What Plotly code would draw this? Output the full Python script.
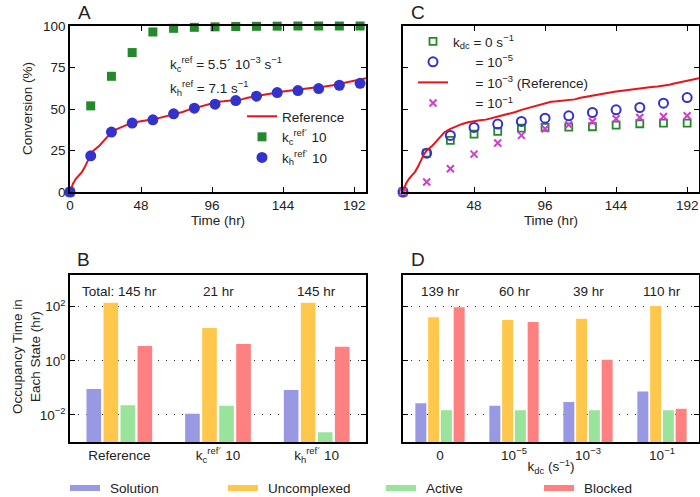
import plotly.graph_objects as go

W, H = 700, 497
FONT = "Liberation Sans, Arial, Helvetica, sans-serif"
FS = 13.5

# ---------------- Panel A data ----------------
ref_time = [0, 2, 4, 6, 8, 10, 12, 14, 16, 20, 24, 28, 32, 36, 40, 44, 48, 52, 56, 60, 64, 68, 72, 76, 80,
            84, 88, 92, 96, 100, 104, 108, 112, 116, 120, 124, 128, 132, 136, 140, 144, 148, 152, 156, 160,
            164, 168, 172, 176, 180, 184, 188, 192, 196, 200]
ref_conv = [0, 5, 8, 10, 12, 15, 19, 22.5, 25, 28, 32, 36, 38, 39.5, 41, 42, 42.8, 43.2, 43.6, 44.5, 45.5,
            46.5, 47.3, 48.2, 49.5, 50.5, 51.5, 52.5, 53.5, 54.3, 54.6, 55, 55.3, 55.8, 56.8, 57.5, 58.3, 58.9,
            59.4, 60, 60.5, 61, 61.6, 62.1, 62.5, 62.9, 63.2, 63.6, 64, 64.6, 65.5, 66.3, 67, 67.8, 68.5]

a_time = [0, 14, 28, 42, 56, 70, 84, 98, 112, 126, 140, 154, 168, 182, 196]
a_kc10 = [0, 51.9, 69.7, 84.0, 96.4, 98.6, 99.2, 99.5, 99.7, 99.8, 99.9, 100, 100, 100, 100]
a_kh10 = [0, 21.8, 36.1, 41.5, 43.5, 47.1, 50.5, 52.9, 55.1, 57.7, 59.9, 61.1, 62.3, 64.3, 65.5]

# ---------------- Panel C data ----------------
c_time = [0, 16, 32, 48, 64, 80, 96, 112, 128, 144, 160, 176, 192]
c_k0 = [0, 23.4, 31.1, 34.9, 36.5, 38.5, 38.9, 39.1, 39.3, 40.3, 41.1, 41.5, 41.5]
c_k5 = [0, 23.4, 34.1, 38.9, 40.9, 42.5, 44.5, 45.9, 47.9, 49.5, 50.9, 53.5, 56.9]
c_k1 = [0, 6.0, 14.0, 22.8, 29.5, 34.1, 38.1, 40.5, 42.5, 44.1, 44.9, 45.5, 45.9]

# ---------------- Panel B / D data ----------------
states = ["Solution", "Uncomplexed", "Active", "Blocked"]
state_colors = ["#9999e3", "#ffc84d", "#99e39a", "#ff8080"]

b_labels = ["Reference", "k<sub>c</sub><sup>ref´</sup> 10", "k<sub>h</sub><sup>ref´</sup> 10"]
b_totals = ["Total: 145 hr", "21 hr", "145 hr"]
b_values = {
    "Solution":    [0.091, 0.011, 0.083],
    "Uncomplexed": [141, 16.3, 141],
    "Active":      [0.023, 0.022, 0.0023],
    "Blocked":     [3.5, 4.2, 3.3],
}

d_labels = ["0", "10<sup>−5</sup>", "10<sup>−3</sup>", "10<sup>−1</sup>"]
d_totals = ["139 hr", "60 hr", "39 hr", "110 hr"]
d_values = {
    "Solution":    [0.027, 0.022, 0.030, 0.074],
    "Uncomplexed": [41, 32, 36, 105],
    "Active":      [0.015, 0.015, 0.015, 0.015],
    "Blocked":     [95, 27, 1.1, 0.017],
}

log_ticks = [1e-2, 1, 1e2]
log_ticktext = ["10<sup>−2</sup>", "10<sup>0</sup>", "10<sup>2</sup>"]
conv_ticks = [0, 25, 50, 75, 100]
time_ticks = [0, 48, 96, 144, 192]


def px_x(p):
    return p / W


def px_y(p):
    return 1 - p / H


fig = go.Figure()

# Panel A
fig.add_trace(go.Scatter(x=ref_time, y=ref_conv, mode="lines", line=dict(color="#e8141a", width=2),
                         name="Reference", xaxis="x", yaxis="y", legend="legend", cliponaxis=False))
fig.add_trace(go.Scatter(x=a_time, y=a_kc10, mode="markers",
                         marker=dict(symbol="square", size=9, color="#23892a"),
                         name="k<sub>c</sub><sup>ref´</sup> 10", xaxis="x", yaxis="y", legend="legend",
                         cliponaxis=False))
fig.add_trace(go.Scatter(x=a_time, y=a_kh10, mode="markers",
                         marker=dict(symbol="circle", size=11, color="#3333cc"),
                         name="k<sub>h</sub><sup>ref´</sup> 10", xaxis="x", yaxis="y", legend="legend",
                         cliponaxis=False))

# Panel C
pad = "\u00a0" * 6
fig.add_trace(go.Scatter(x=c_time, y=c_k0, mode="markers",
                         marker=dict(symbol="square-open", size=7, color="#23892a", line=dict(width=1.8)),
                         name="k<sub>dc</sub> = 0 s<sup>−1</sup>", xaxis="x2", yaxis="y2", legend="legend2",
                         cliponaxis=False))
fig.add_trace(go.Scatter(x=c_time, y=c_k5, mode="markers",
                         marker=dict(symbol="circle-open", size=9, color="#3333cc", line=dict(width=2)),
                         name=pad + "= 10<sup>−5</sup>", xaxis="x2", yaxis="y2", legend="legend2",
                         cliponaxis=False))
fig.add_trace(go.Scatter(x=ref_time, y=ref_conv, mode="lines", line=dict(color="#e8141a", width=2),
                         name=pad + "= 10<sup>−3</sup> (Reference)", xaxis="x2", yaxis="y2",
                         legend="legend2", cliponaxis=False))
fig.add_trace(go.Scatter(x=c_time, y=c_k1, mode="markers",
                         marker=dict(symbol="x-thin-open", size=7, color="#d43ad4", line=dict(width=2, color="#d43ad4")),
                         name=pad + "= 10<sup>−1</sup>", xaxis="x2", yaxis="y2", legend="legend2",
                         cliponaxis=False))

# Panels B and D bars
for s, col in zip(states, state_colors):
    fig.add_trace(go.Bar(x=list(range(len(b_labels))), y=b_values[s], marker=dict(color=col, line=dict(width=0)),
                         name=s, xaxis="x3", yaxis="y3", showlegend=False))
    fig.add_trace(go.Bar(x=list(range(len(d_labels))), y=d_values[s], marker=dict(color=col, line=dict(width=0)),
                         name=s, xaxis="x4", yaxis="y4", showlegend=False))

frame = dict(showline=True, linecolor="black", linewidth=1.5, mirror="ticks", zeroline=False,
             showgrid=False, ticks="inside", ticklen=5, tickwidth=1, tickcolor="black", automargin=False,
             tickfont=dict(size=FS, color="#222"))

domA_x = [px_x(70), px_x(366)]
domC_x = [px_x(403), px_x(699)]
dom_top = [px_y(192), px_y(26)]
dom_bot = [px_y(442), px_y(275)]

fig.update_layout(
    width=W, height=H, margin=dict(l=0, r=0, t=0, b=0, autoexpand=False),
    paper_bgcolor="white", plot_bgcolor="white",
    font=dict(family=FONT, size=FS, color="#222"),
    barmode="group", bargap=0.31, bargroupgap=0.14,
    xaxis=dict(frame, domain=domA_x, range=[0, 200], tickvals=time_ticks, anchor="y",
               title=dict(text="Time (hr)", standoff=4, font=dict(size=FS))),
    yaxis=dict(frame, domain=dom_top, range=[0, 100], tickvals=conv_ticks, anchor="x"),
    xaxis2=dict(frame, domain=domC_x, range=[0, 200], tickvals=time_ticks,
                ticktext=["", "48", "96", "144", "192"], anchor="y2",
                title=dict(text="Time (hr)", standoff=4, font=dict(size=FS))),
    yaxis2=dict(frame, domain=dom_top, range=[0, 100], tickvals=conv_ticks, showticklabels=False, anchor="x2"),
    xaxis3=dict(frame, domain=domA_x, range=[-0.5, 2.5], tickvals=list(range(len(b_labels))),
                ticktext=b_labels, ticks="", anchor="y3"),
    yaxis3=dict(frame, domain=dom_bot, type="log", range=[-3, 3.17], tickvals=log_ticks,
                ticktext=log_ticktext, showgrid=True, gridcolor="#333", griddash="1px,7px", gridwidth=1,
                anchor="x3"),
    xaxis4=dict(frame, domain=domC_x, range=[-0.5, 3.5], tickvals=list(range(len(d_labels))),
                ticktext=d_labels, ticks="", anchor="y4",
                title=dict(text="k<sub>dc</sub> (s<sup>−1</sup>)", standoff=0, font=dict(size=FS))),
    yaxis4=dict(frame, domain=dom_bot, type="log", range=[-3, 3.17], tickvals=log_ticks,
                showticklabels=False, showgrid=True, gridcolor="#333", griddash="1px,7px", gridwidth=1,
                anchor="x4"),
    legend=dict(x=px_x(242), y=px_y(101), xanchor="left", yanchor="top", bgcolor="rgba(0,0,0,0)",
                font=dict(size=FS), tracegroupgap=0, itemwidth=30),
    legend2=dict(x=px_x(413), y=px_y(26), xanchor="left", yanchor="top", bgcolor="rgba(0,0,0,0)",
                 font=dict(size=FS), tracegroupgap=0, itemwidth=30),
)

ann = []
# panel letters
for letter, x, y in [("A", 76, 13), ("C", 409, 13), ("B", 75, 259), ("D", 409, 259)]:
    ann.append(dict(text=letter, x=px_x(x), y=px_y(y), xref="paper", yref="paper", xanchor="left",
                    yanchor="middle", showarrow=False, font=dict(size=19, color="#222")))
# y-axis titles
ann.append(dict(text="Conversion (%)", x=px_x(27), y=px_y(109), xref="paper", yref="paper", textangle=-90,
                xanchor="center", yanchor="middle", showarrow=False, font=dict(size=FS)))
ann.append(dict(text="Occupancy Time in<br>Each State (hr)", x=px_x(26), y=px_y(357), xref="paper",
                yref="paper", textangle=-90, xanchor="center", yanchor="middle", showarrow=False,
                font=dict(size=FS)))
# rate-constant annotation in A
ann.append(dict(text="k<sub>c</sub><sup>ref</sup> = 5.5´ 10<sup>−3</sup> s<sup>−1</sup>", x=px_x(168),
                y=px_y(52), xref="paper", yref="paper", xanchor="left", showarrow=False, font=dict(size=FS)))
ann.append(dict(text="k<sub>h</sub><sup>ref</sup> = 7.1 s<sup>−1</sup>", x=px_x(168), y=px_y(76),
                xref="paper", yref="paper", xanchor="left", showarrow=False, font=dict(size=FS)))
# totals
for i, t in enumerate(b_totals):
    ann.append(dict(text=t, x=i, y=px_y(291), xref="x3", yref="paper", showarrow=False, font=dict(size=FS)))
for i, t in enumerate(d_totals):
    ann.append(dict(text=t, x=i, y=px_y(291), xref="x4", yref="paper", showarrow=False, font=dict(size=FS)))

# bottom legend (swatches + labels)
shapes = []
leg_x0 = [70, 228, 386, 544]
for s, col, x0 in zip(states, state_colors, leg_x0):
    shapes.append(dict(type="rect", xref="paper", yref="paper", x0=px_x(x0), x1=px_x(x0 + 30),
                       y0=px_y(491), y1=px_y(485), fillcolor=col, line=dict(width=0)))
    ann.append(dict(text=s, x=px_x(x0 + 38), y=px_y(488), xref="paper", yref="paper", xanchor="left",
                    yanchor="middle", showarrow=False, font=dict(size=FS)))

fig.update_layout(annotations=ann, shapes=shapes)
fig.write_html("out.html", config={"displayModeBar": False},
               post_script="document.body.style.margin='0';document.body.style.overflow='hidden';")
